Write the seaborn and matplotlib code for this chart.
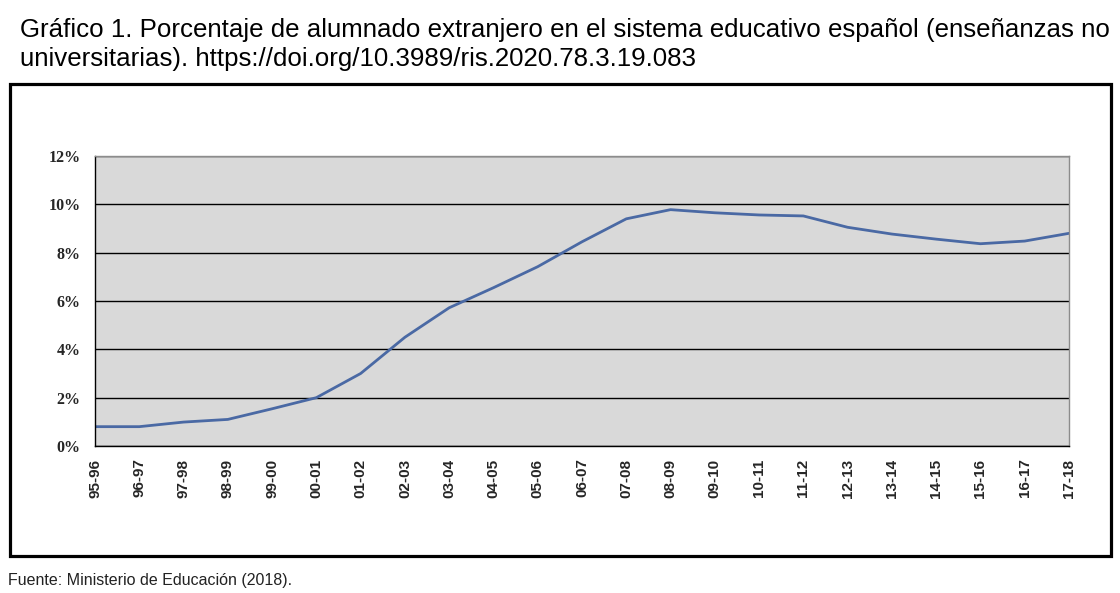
import matplotlib
matplotlib.use("Agg")
import matplotlib.pyplot as plt
import seaborn as sns
import pandas as pd
from matplotlib.patches import Rectangle
from matplotlib.ticker import FixedLocator

cursos = ["95-96", "96-97", "97-98", "98-99", "99-00", "00-01", "01-02", "02-03",
          "03-04", "04-05", "05-06", "06-07", "07-08", "08-09", "09-10", "10-11",
          "11-12", "12-13", "13-14", "14-15", "15-16", "16-17", "17-18"]
porcentaje = [0.80, 0.80, 0.99, 1.10, 1.54, 2.00, 3.00, 4.50, 5.72, 6.55, 7.42, 8.45,
              9.40, 9.78, 9.65, 9.56, 9.52, 9.05, 8.77, 8.56, 8.37, 8.48, 8.80]
yticks = [0, 2, 4, 6, 8, 10, 12]
ytick_labels = ["0%", "2%", "4%", "6%", "8%", "10%", "12%"]

titulo1 = "Gráfico 1. Porcentaje de alumnado extranjero en el sistema educativo español (enseñanzas no"
titulo2 = "universitarias). https://doi.org/10.3989/ris.2020.78.3.19.083"
fuente = "Fuente: Ministerio de Educación (2018)."

df = pd.DataFrame({"curso": cursos, "pct": porcentaje})

sns.set_style("white")
plt.rcParams["font.family"] = ["Liberation Sans", "DejaVu Sans"]

W, H = 1120, 593
fig = plt.figure(figsize=(W / 100, H / 100), dpi=100)
ax = fig.add_axes([95 / W, 1 - 446 / H, (1069 - 95) / W, (446 - 156) / H])

sns.lineplot(data=df, x="curso", y="pct", ax=ax, color="#4a69a4", linewidth=2.0, sort=False)

ax.set_facecolor("#d9d9d9")
ax.set_xlim(0, len(cursos) - 1)
ax.set_ylim(0, 12)
ax.yaxis.set_major_locator(FixedLocator(yticks))
ax.set_yticklabels(ytick_labels, fontfamily="Liberation Serif", fontweight="bold", fontsize=11.5)
ax.set_xticks(range(len(cursos)))
ax.set_xticklabels(cursos, rotation=90, fontfamily="Liberation Sans", fontweight="bold", fontsize=11)
ax.set_xlabel("")
ax.set_ylabel("")

ax.yaxis.grid(True, color="black", linewidth=1.0)
ax.xaxis.grid(False)
ax.set_axisbelow(True)

ax.tick_params(axis="y", length=0, pad=10.5)
ax.tick_params(axis="x", direction="inout", length=7, width=1, color="black", pad=5.5)

for s in ["left", "bottom"]:
    ax.spines[s].set_color("black")
    ax.spines[s].set_linewidth(1.0)
for s in ["top", "right"]:
    ax.spines[s].set_color("#8c8c8c")
    ax.spines[s].set_linewidth(1.0)
    ax.spines[s].set_visible(True)

fig.patches.append(Rectangle((9.5 / W, 1 - 556 / H), (1111 - 9.5) / W, (556 - 83.5) / H,
                             transform=fig.transFigure, fill=False, edgecolor="black",
                             linewidth=2.3, zorder=0))

fig.text(20 / W, 1 - 37 / H, titulo1, fontsize=18.6, va="baseline", ha="left", color="black")
fig.text(20 / W, 1 - 66 / H, titulo2, fontsize=18.6, va="baseline", ha="left", color="black")
fig.text(8 / W, 1 - 585 / H, fuente, fontsize=11.5, va="baseline", ha="left", color="#222222")

fig.savefig("out.png", dpi=100)
